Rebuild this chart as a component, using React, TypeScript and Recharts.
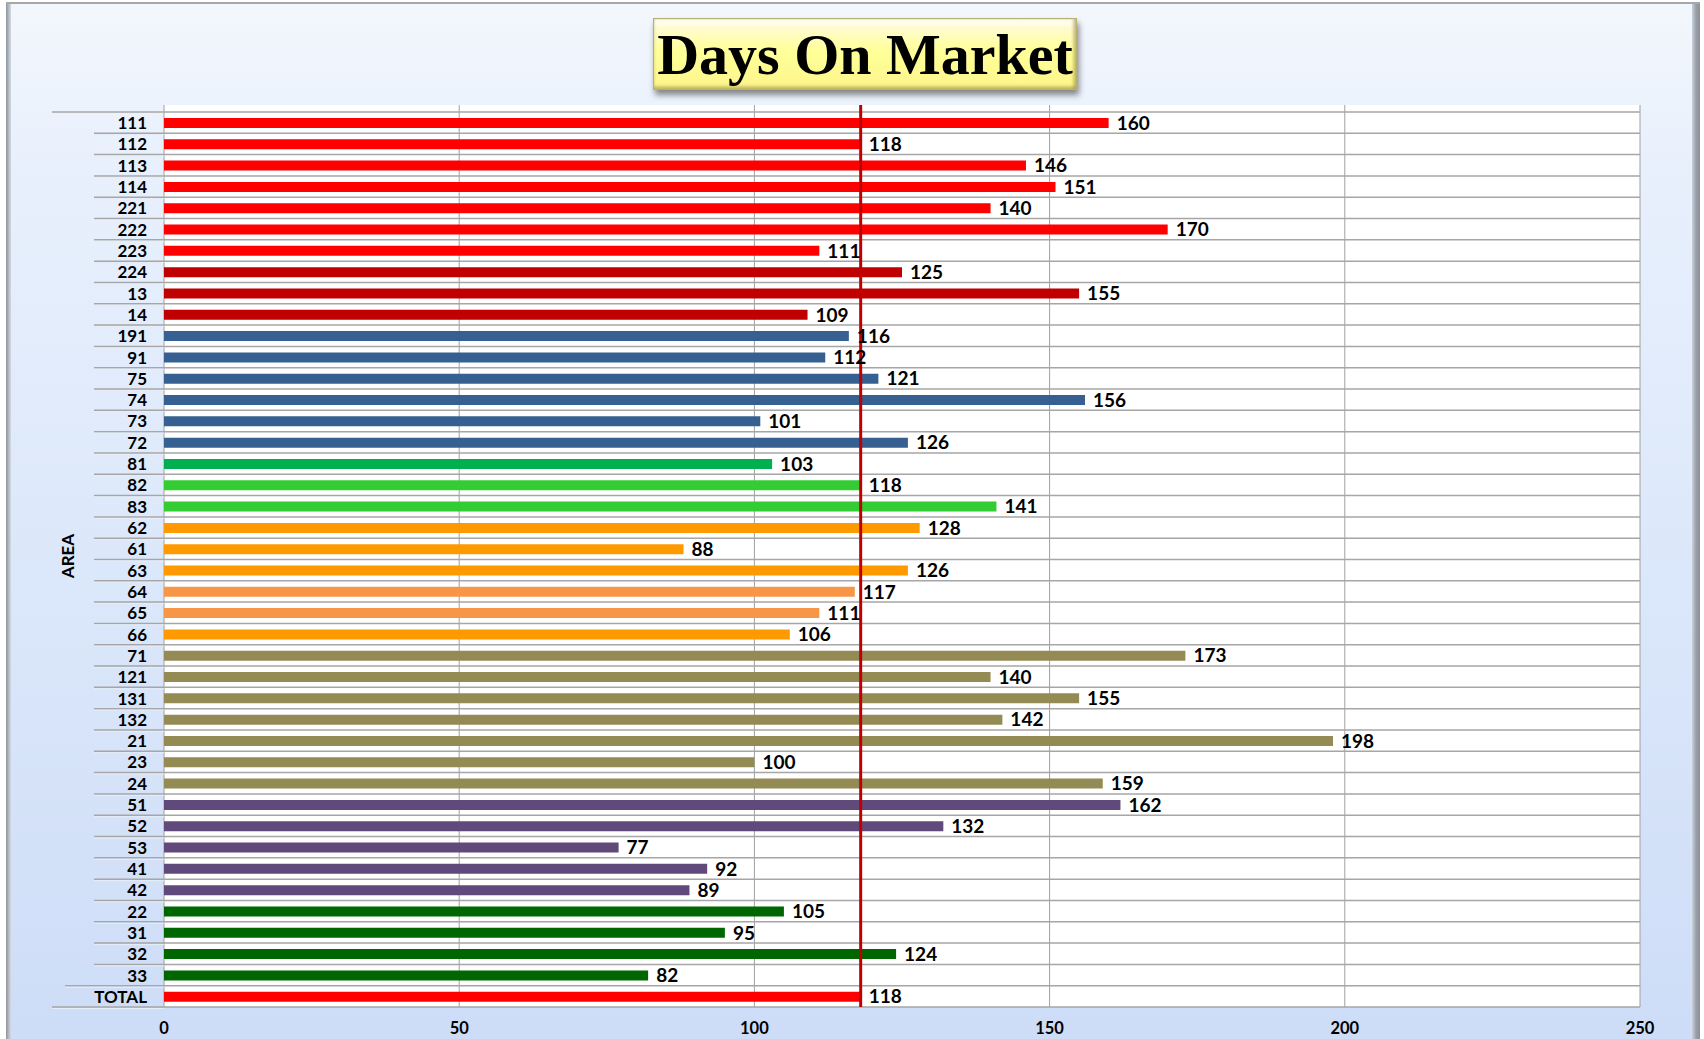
import React from 'react';
import { BarChart, Bar, XAxis, YAxis, CartesianGrid, ReferenceLine, LabelList, Cell } from 'recharts';

const areas = ['111','112','113','114','221','222','223','224','13','14','191','91','75','74','73','72','81','82','83','62','61','63','64','65','66','71','121','131','132','21','23','24','51','52','53','41','42','22','31','32','33','TOTAL'];
const days = [160,118,146,151,140,170,111,125,155,109,116,112,121,156,101,126,103,118,141,128,88,126,117,111,106,173,140,155,142,198,100,159,162,132,77,92,89,105,95,124,82,118];
const barColors = [
  '#FF0000','#FF0000','#FF0000','#FF0000','#FF0000','#FF0000','#FF0000',
  '#C00000','#C00000','#C00000',
  '#376092','#376092','#376092','#376092','#376092','#376092',
  '#00B050','#33CC33','#33CC33',
  '#FF9900','#FF9900','#FF9900','#F79646','#F79646','#FF9900',
  '#948A54','#948A54','#948A54','#948A54','#948A54','#948A54','#948A54',
  '#604A7B','#604A7B','#604A7B','#604A7B','#604A7B',
  '#006600','#006600','#006600','#006600',
  '#FF0000'
];
const xTicks = [0, 50, 100, 150, 200, 250];
const averageDays = 118;
const title = 'Days On Market';
const yAxisTitle = 'AREA';

const data = areas.map((area, i) => ({ area, days: days[i], color: barColors[i] }));

const W = 1704;
const H = 1039;
const LINE_LEFT = 52;
const PLOT_LEFT = 164;
const PLOT_RIGHT = 1640;
const PAD_TOP = 7;
const LABEL_FONT = 'Lato, "Open Sans", sans-serif';
const GRID_GRAY = '#a6a6a6';

const AreaTick = (props: any) => {
  const { y, payload, index } = props;
  const half = payload && payload.offset ? payload.offset : (1007 - 112) / areas.length / 2;
  const last = areas.length - 1;
  const startX = index === last ? LINE_LEFT : index === last - 1 ? 65 : 94;
  return (
    <g>
      {index === 0 && (
        <line x1={LINE_LEFT} x2={PLOT_LEFT} y1={y - half} y2={y - half} stroke={GRID_GRAY} strokeWidth={1.5} />
      )}
      <line x1={startX} x2={PLOT_LEFT} y1={y + half} y2={y + half} stroke={GRID_GRAY} strokeWidth={1.5} />
      <line x1={startX} x2={PLOT_LEFT} y1={y + half + 1.5} y2={y + half + 1.5} stroke="#e6edf8" strokeWidth={1} />
      <text x={147} y={y} textAnchor="end" dominantBaseline="central" fontFamily={LABEL_FONT} fontWeight={700} fontSize={17} fill="#000">
        {payload.value}
      </text>
    </g>
  );
};

const AreaTitle = (props: any) => {
  const vb = props.viewBox || { x: 52, y: 105, width: 112, height: 902 };
  const cx = vb.x + 15;
  const cy = vb.y + vb.height / 2;
  return (
    <text x={cx} y={cy} transform={`rotate(-90 ${cx} ${cy})`} textAnchor="middle" dominantBaseline="central" fontFamily={LABEL_FONT} fontWeight={700} fontSize={17} fill="#000">
      {yAxisTitle}
    </text>
  );
};

const bandBoundaries = (args: any) => {
  try {
    const yAxis = args && args.yAxis;
    const s = yAxis && yAxis.scale;
    if (s && typeof s.bandwidth === 'function') {
      const call = typeof s === 'function' ? (v: string) => s(v) : typeof s.map === 'function' ? (v: string) => s.map(v) : null;
      if (call) {
        const bw = s.bandwidth();
        const pts = areas.map((a) => call(a));
        pts.push(call(areas[areas.length - 1]) + bw);
        if (pts.every((p: any) => typeof p === 'number' && !isNaN(p))) return pts;
      }
    }
  } catch (e) {
    // fall through
  }
  const off = (args && args.offset) || { top: 105, height: 902 };
  const top = off.top + PAD_TOP;
  const step = (off.height - PAD_TOP) / areas.length;
  return Array.from({ length: areas.length + 1 }, (_, i) => top + i * step);
};

export default function App() {
  return (
    <div style={{ position: 'absolute', left: 0, top: 0, width: W, height: H, overflow: 'hidden', background: '#ffffff' }}>
      <div style={{ position: 'absolute', left: 6, top: 2, width: 1694, height: 1060, background: 'linear-gradient(90deg, #8f959c 0px, #b8bec6 3px, #d6dbe2 5px)', borderTop: '2px solid #a8a8a8' }} />
      <div style={{ position: 'absolute', left: 11, top: 4, width: 1681, height: 1060, background: 'linear-gradient(180deg, #f3f7fd 0%, #e8f0fc 15%, #dbe7fa 55%, #cddcf7 100%)' }} />
      <div style={{ position: 'absolute', left: 1692, top: 4, width: 8, height: 1060, background: 'linear-gradient(90deg, #c9d2de 0px, #9aa0a8 4px, #8a9098 8px)' }} />
      <div style={{ position: 'absolute', left: 0, top: 0 }}>
        <BarChart width={W} height={H} data={data} layout="vertical" margin={{ top: 105, right: W - PLOT_RIGHT, bottom: 0, left: LINE_LEFT }} barCategoryGap={0}>
          <CartesianGrid horizontal={false} vertical={true} stroke="#a0a0a0" strokeWidth={1} fill="#ffffff" />
          <CartesianGrid horizontal={true} vertical={false} stroke={GRID_GRAY} strokeWidth={1.5} horizontalCoordinatesGenerator={bandBoundaries} />
          <XAxis type="number" domain={[0, 250]} ticks={xTicks} tickLine={false} axisLine={false} height={32} tickSize={0} tickMargin={15}
            tick={{ fontFamily: LABEL_FONT, fontWeight: 700, fontSize: 16.5, fill: '#000' }} allowDataOverflow />
          <YAxis type="category" dataKey="area" width={PLOT_LEFT - LINE_LEFT} tickLine={false} axisLine={false} interval={0}
            padding={{ top: PAD_TOP, bottom: 0 }} tick={<AreaTick />} label={<AreaTitle />} />
          <Bar dataKey="days" barSize={10} isAnimationActive={false}>
            {data.map((d, i) => (
              <Cell key={i} fill={d.color} />
            ))}
            <LabelList dataKey="days" position="right" offset={8} fill="#000" fontFamily={LABEL_FONT} fontWeight={700} fontSize={19} />
          </Bar>
          <ReferenceLine x={averageDays} stroke="#C00000" strokeWidth={3} ifOverflow="extendDomain" />
        </BarChart>
      </div>
      <div style={{
        position: 'absolute', left: 653, top: 18, width: 424, height: 72, boxSizing: 'border-box',
        background: 'linear-gradient(180deg, #ffffff 0%, #fffbd0 12%, #ffff99 45%, #fdf58a 100%)',
        border: '1px solid #b8b070',
        boxShadow: '2px 5px 6px rgba(0,0,0,0.45), inset 0 -3px 3px rgba(120,110,40,0.35), inset -3px 0 3px rgba(120,110,40,0.35)',
        display: 'flex', alignItems: 'center', justifyContent: 'center'
      }}>
        <span style={{ fontFamily: '"Liberation Serif", serif', fontWeight: 700, fontSize: 58, lineHeight: '58px', color: '#000', marginTop: 2 }}>{title}</span>
      </div>
    </div>
  );
}
